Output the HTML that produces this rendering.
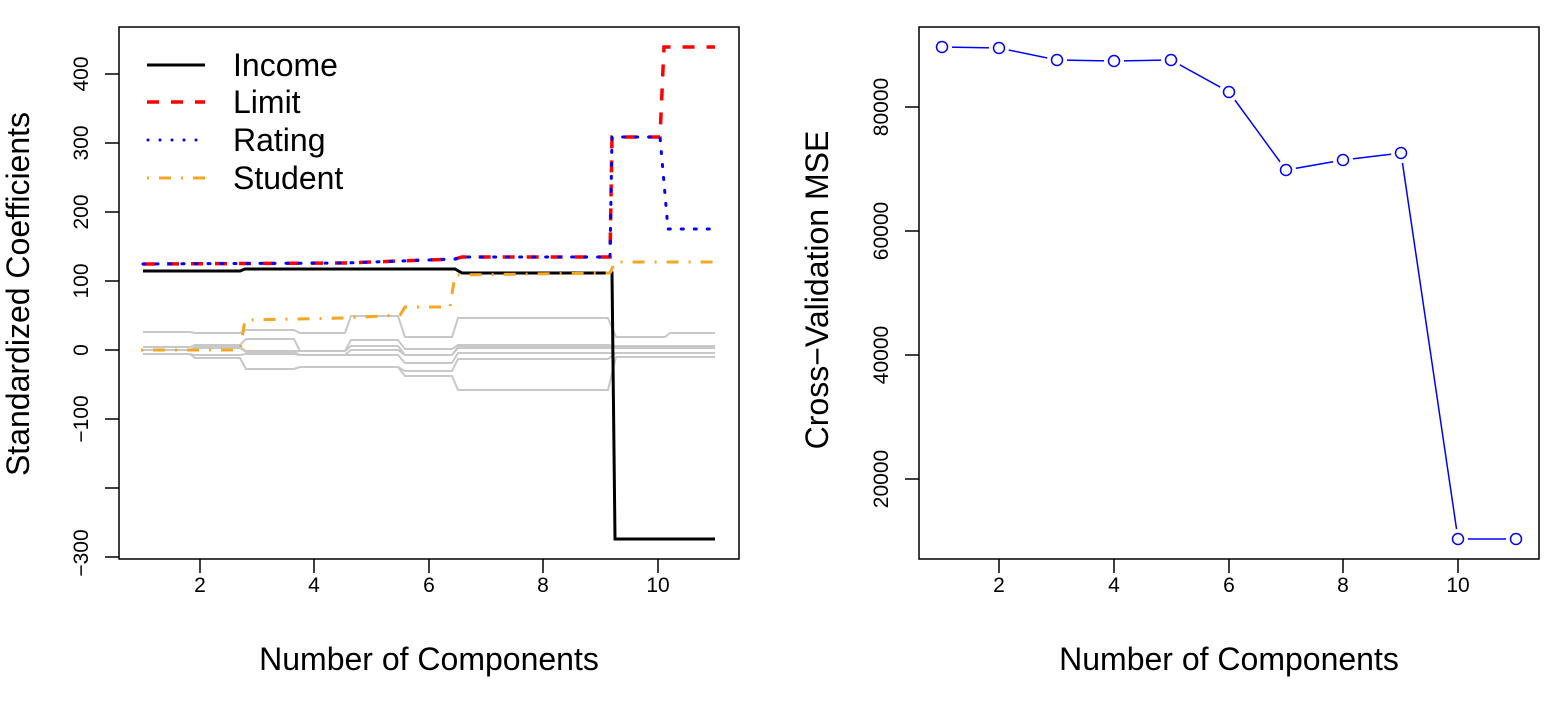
<!DOCTYPE html>
<html><head><meta charset="utf-8"><style>body{margin:0;background:#fff}svg{display:block}text{font-family:"Liberation Sans",Arial,sans-serif;fill:#000}</style></head>
<body>
<svg width="1563" height="701" viewBox="0 0 1563 701" xmlns="http://www.w3.org/2000/svg">
<!-- LEFT PLOT -->
<g fill="none" stroke="#c8c8c8" stroke-width="2">
<polyline points="143,332 190,332 195,333 240,333 246,330 294,330 300,333 345,333 351,316 398,316 405,337 452,337 458,318 608,318 616,337 665,337 670,333 715,333"/>
<polyline points="143,347 190,347 195,345 240,345 246,339 294,339 300,351 345,351 351,340 398,340 405,349 452,349 458,345 608,345 616,346 715,346"/>
<polyline points="143,350 190,350 195,347 240,347 246,351 294,351 300,351 345,351 351,346 398,346 405,355 452,355 458,347 608,347 616,347 715,347"/>
<polyline points="143,350 190,350 195,348 240,348 246,352 294,352 300,355 345,355 351,350 398,350 405,355 452,355 458,348 608,348 616,348 715,348"/>
<polyline points="143,354 190,354 195,355 240,355 246,354 294,354 300,355 345,355 351,355 398,355 405,363 452,363 458,353 608,353 616,353 715,353"/>
<polyline points="143,354 190,354 195,358 240,358 246,369 294,369 300,367 345,367 351,367 398,367 405,371 452,371 458,359 608,359 616,353 715,353"/>
<polyline points="143,354 190,354 195,358 240,358 246,369 294,369 300,367 345,367 351,367 398,367 405,376 452,376 458,390 608,390 616,357 715,357"/>
</g>
<polyline fill="none" stroke="#000" stroke-width="3" points="143,271 240,271 245,269 455,269 462,273 612,273 615,539 715,539"/>
<polyline fill="none" stroke="#f5a623" stroke-width="3" stroke-dasharray="2,10,12,10" points="141,350 240,350 245,320 345,318 400,315 405,307 450,307 455,275 610,273 615,262 715,262"/>
<polyline fill="none" stroke="#ff0000" stroke-width="3.5" stroke-dasharray="12,12" points="143,264 345,263 455,259 462,257 610,257 612,137 660,137 664,47 715,47"/>
<polyline fill="none" stroke="#0000ff" stroke-width="3" stroke-dasharray="2,11" stroke-linecap="round" points="143,264 345,263 455,259 462,257 610,257 612,137 660,137 668,229 715,229"/>
<rect x="119" y="27" width="620" height="532" fill="none" stroke="#000" stroke-width="1.5"/>
<g stroke="#000" stroke-width="1.5">
<line x1="200" y1="559" x2="200" y2="573"/><line x1="314" y1="559" x2="314" y2="573"/><line x1="429" y1="559" x2="429" y2="573"/><line x1="543" y1="559" x2="543" y2="573"/><line x1="658" y1="559" x2="658" y2="573"/>
<line x1="105" y1="74" x2="119" y2="74"/><line x1="105" y1="143" x2="119" y2="143"/><line x1="105" y1="212" x2="119" y2="212"/><line x1="105" y1="281" x2="119" y2="281"/><line x1="105" y1="350" x2="119" y2="350"/><line x1="105" y1="419" x2="119" y2="419"/><line x1="105" y1="488" x2="119" y2="488"/><line x1="105" y1="557" x2="119" y2="557"/>
</g>
<g font-size="21" text-anchor="middle">
<text x="200" y="592">2</text><text x="314" y="592">4</text><text x="429" y="592">6</text><text x="543" y="592">8</text><text x="658" y="592">10</text>
<text transform="translate(88,74) rotate(-90)">400</text>
<text transform="translate(88,143) rotate(-90)">300</text>
<text transform="translate(88,212) rotate(-90)">200</text>
<text transform="translate(88,281) rotate(-90)">100</text>
<text transform="translate(88,350) rotate(-90)">0</text>
<text transform="translate(88,419) rotate(-90)">−100</text>
<text transform="translate(88,553) rotate(-90)">−300</text>
</g>
<text x="429" y="670" font-size="32" text-anchor="middle">Number of Components</text>
<text transform="translate(29,294) rotate(-90)" font-size="32" text-anchor="middle">Standardized Coefficients</text>
<!-- legend -->
<line x1="147" y1="65" x2="205" y2="65" stroke="#000" stroke-width="3"/>
<line x1="147" y1="102" x2="205" y2="102" stroke="#ff0000" stroke-width="3.5" stroke-dasharray="12,12"/>
<line x1="148" y1="140" x2="205" y2="140" stroke="#0000ff" stroke-width="3" stroke-dasharray="0,12" stroke-linecap="round"/>
<line x1="147" y1="178" x2="205" y2="178" stroke="#f5a623" stroke-width="3" stroke-dasharray="2,10,12,10"/>
<g font-size="32"><text x="233" y="76">Income</text><text x="233" y="113">Limit</text><text x="233" y="151">Rating</text><text x="233" y="189">Student</text></g>
<!-- RIGHT PLOT -->
<rect x="919" y="27" width="620" height="532" fill="none" stroke="#000" stroke-width="1.5"/>
<polyline fill="none" stroke="#0000ff" stroke-width="1.5" points="942,47 999,48 1057,60 1114,61 1171,60 1229,92 1286,170 1343,160 1401,153 1458,539 1516,539"/>
<g fill="#fff" stroke="none">
<circle cx="942" cy="47" r="10"/><circle cx="999" cy="48" r="10"/><circle cx="1057" cy="60" r="10"/><circle cx="1114" cy="61" r="10"/><circle cx="1171" cy="60" r="10"/><circle cx="1229" cy="92" r="10"/><circle cx="1286" cy="170" r="10"/><circle cx="1343" cy="160" r="10"/><circle cx="1401" cy="153" r="10"/><circle cx="1458" cy="539" r="10"/><circle cx="1516" cy="539" r="10"/>
</g>
<g fill="none" stroke="#0000ff" stroke-width="1.5">
<circle cx="942" cy="47" r="5.5"/><circle cx="999" cy="48" r="5.5"/><circle cx="1057" cy="60" r="5.5"/><circle cx="1114" cy="61" r="5.5"/><circle cx="1171" cy="60" r="5.5"/><circle cx="1229" cy="92" r="5.5"/><circle cx="1286" cy="170" r="5.5"/><circle cx="1343" cy="160" r="5.5"/><circle cx="1401" cy="153" r="5.5"/><circle cx="1458" cy="539" r="5.5"/><circle cx="1516" cy="539" r="5.5"/>
</g>
<g stroke="#000" stroke-width="1.5">
<line x1="999" y1="559" x2="999" y2="573"/><line x1="1114" y1="559" x2="1114" y2="573"/><line x1="1229" y1="559" x2="1229" y2="573"/><line x1="1343" y1="559" x2="1343" y2="573"/><line x1="1458" y1="559" x2="1458" y2="573"/>
<line x1="905" y1="107" x2="919" y2="107"/><line x1="905" y1="231" x2="919" y2="231"/><line x1="905" y1="355" x2="919" y2="355"/><line x1="905" y1="479" x2="919" y2="479"/>
</g>
<g font-size="21" text-anchor="middle">
<text x="999" y="592">2</text><text x="1114" y="592">4</text><text x="1229" y="592">6</text><text x="1343" y="592">8</text><text x="1458" y="592">10</text>
<text transform="translate(888,107) rotate(-90)">80000</text>
<text transform="translate(888,231) rotate(-90)">60000</text>
<text transform="translate(888,355) rotate(-90)">40000</text>
<text transform="translate(888,479) rotate(-90)">20000</text>
</g>
<text x="1229" y="670" font-size="32" text-anchor="middle">Number of Components</text>
<text transform="translate(828,290) rotate(-90)" font-size="32" text-anchor="middle">Cross−Validation MSE</text>
</svg>
</body></html>
